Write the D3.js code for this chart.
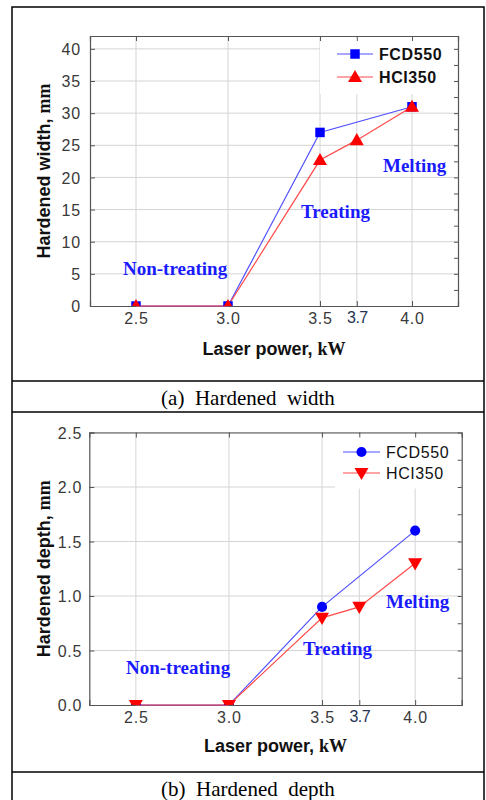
<!DOCTYPE html>
<html>
<head>
<meta charset="utf-8">
<script src="https://cdn.jsdelivr.net/npm/d3@7"></script>
<style>
  html, body { margin: 0; padding: 0; background: #fff; }
  svg { display: block; }
  text { white-space: pre; }
</style>
</head>
<body>
<svg id="chart" width="486" height="800"></svg>
<script>
// ---- data ----
const powerFCD = [2.5, 3.0, 3.5, 4.0];
const powerHCI = [2.5, 3.0, 3.5, 3.7, 4.0];
const widthFCD = [0, 0, 27, 31];
const widthHCI = [0, 0, 22.7, 25.8, 31];
const depthFCD = [0, 0, 0.9, 1.6];
const depthHCI = [0, 0, 0.8, 0.9, 1.3];
const xTicks = [2.5, 3.0, 3.5, 3.7, 4.0];
const widthTicks = [0, 5, 10, 15, 20, 25, 30, 35, 40];
const depthTicks = [0, 0.5, 1.0, 1.5, 2.0, 2.5];
const seriesNames = ["FCD550", "HCI350"];
const regionLabels = ["Non-treating", "Treating", "Melting"];

const svg = d3.select("#chart");
const SANS = "'Liberation Sans', Arial, sans-serif";
const SERIF = "'Liberation Serif', 'Times New Roman', serif";
const BLUE = "#0000ff", RED = "#ff0000";
const LBLUE = "#5050ff", LRED = "#ff4a4a";
const TXTBLUE = "#1a1aff";

// outer frame
svg.append("rect").attr("x", 12).attr("y", 7).attr("width", 472).attr("height", 800)
  .attr("fill", "none").attr("stroke", "#000").attr("stroke-width", 1.5);
[381, 412, 772].forEach(y => svg.append("line").attr("x1", 12).attr("x2", 484)
  .attr("y1", y).attr("y2", y).attr("stroke", "#000").attr("stroke-width", 1.5));

// captions
svg.append("text").attr("x", 248).attr("y", 405).attr("text-anchor", "middle")
  .attr("font-family", SERIF).attr("font-size", 21).attr("fill", "#000")
  .text("(a)  Hardened  width");
svg.append("text").attr("x", 248).attr("y", 796).attr("text-anchor", "middle")
  .attr("font-family", SERIF).attr("font-size", 21).attr("fill", "#000")
  .text("(b)  Hardened  depth");

function drawPanel(cfg) {
  const g = svg.append("g");
  const x = d3.scaleLinear().domain([2.25, 4.25]).range([cfg.left, cfg.right]);
  const y = d3.scaleLinear().domain(cfg.yDomain).range([cfg.bottom, cfg.top]);
  const clipId = "clip" + cfg.id;
  svg.append("defs").append("clipPath").attr("id", clipId).append("rect")
    .attr("x", cfg.left).attr("y", cfg.top)
    .attr("width", cfg.right - cfg.left).attr("height", cfg.bottom - cfg.top);

  // grid
  g.append("g").selectAll("line").data(cfg.yTicks.slice(1)).join("line")
    .attr("x1", cfg.left).attr("x2", cfg.right)
    .attr("y1", d => y(d)).attr("y2", d => y(d))
    .attr("stroke", "#d4d4d4").attr("stroke-width", 1);
  g.append("g").selectAll("line").data(xTicks).join("line")
    .attr("x1", d => x(d)).attr("x2", d => x(d))
    .attr("y1", cfg.top).attr("y2", cfg.bottom)
    .attr("stroke", "#d4d4d4").attr("stroke-width", 1);

  // legend background
  g.append("rect").attr("x", cfg.legBox[0]).attr("y", cfg.legBox[1])
    .attr("width", cfg.legBox[2]).attr("height", cfg.legBox[3]).attr("fill", "#fff");

  // axes with inward ticks
  const frame = "#555";
  const axL = d3.axisLeft(y).tickValues(cfg.yTicks).tickSize(-5).tickFormat(cfg.yFmt).tickPadding(cfg.yPad);
  const gl = g.append("g").attr("transform", `translate(${cfg.left},0)`).call(axL);
  const axR = d3.axisRight(y).tickValues(cfg.yMinor).tickSize(-4).tickFormat("");
  const gr = g.append("g").attr("transform", `translate(${cfg.right},0)`).call(axR);
  const axB = d3.axisBottom(x).tickValues(xTicks).tickSize(-5).tickFormat(d3.format(".1f")).tickPadding(7);
  const gb = g.append("g").attr("transform", `translate(0,${cfg.bottom})`).call(axB);
  const axT = d3.axisTop(x).tickValues(xTicks).tickSize(-5).tickFormat("");
  const gt = g.append("g").attr("transform", `translate(0,${cfg.top})`).call(axT);
  [gl, gr, gb, gt].forEach(a => {
    a.attr("font-size", null).attr("font-family", null);
    a.select(".domain").attr("stroke", frame).attr("stroke-width", 1.2);
    a.selectAll(".tick line").attr("stroke", frame);
    a.selectAll(".tick text").attr("font-family", SANS).attr("font-size", 16)
      .attr("fill", "#3a3a3a").attr("letter-spacing", "0.8px");
  });
  gl.selectAll(".tick text").attr("dy", "0.35em");
  gb.selectAll(".tick text").filter(d => d === 3.7)
    .attr("fill", "#243356").attr("letter-spacing", "-0.6px")
    .attr("transform", "translate(0,-1.5)");

  // axis titles
  const xt = g.append("text").attr("x", (cfg.left + cfg.right) / 2).attr("y", cfg.xTitleY)
    .attr("text-anchor", "middle").attr("font-size", 18).attr("font-weight", "bold").attr("fill", "#111");
  xt.append("tspan").attr("font-family", SANS).text("Laser power, ");
  xt.append("tspan").attr("font-family", SERIF).text("kW");
  const yt = g.append("text")
    .attr("transform", `translate(${cfg.yTitleX},${(cfg.top + cfg.bottom) / 2}) rotate(-90)`)
    .attr("text-anchor", "middle").attr("font-size", 18).attr("font-weight", "bold").attr("fill", "#111");
  yt.append("tspan").attr("font-family", SANS).text(cfg.yTitle + ", ");
  yt.append("tspan").attr("font-family", SERIF).text("mm");

  // region labels
  cfg.regionPos.forEach((p, i) => {
    g.append("text").attr("x", p[0]).attr("y", p[1]).attr("font-family", SERIF)
      .attr("font-weight", "bold").attr("font-size", 19).attr("fill", TXTBLUE)
      .text(regionLabels[i]);
  });

  // series
  const series = [
    { name: seriesNames[0], xs: powerFCD, ys: cfg.fcd, color: BLUE, lcolor: LBLUE, sym: cfg.symA, size: cfg.sizeA },
    { name: seriesNames[1], xs: powerHCI, ys: cfg.hci, color: RED, lcolor: LRED, sym: cfg.symB, size: cfg.sizeB }
  ];
  const line = d3.line().x(d => x(d[0])).y(d => y(d[1]));
  const plot = g.append("g");
  series.forEach(s => {
    const pts = s.xs.map((v, i) => [v, s.ys[i]]);
    plot.append("path").attr("d", line(pts)).attr("fill", "none")
      .attr("stroke", s.lcolor).attr("stroke-width", 1.2);
  });
  series.forEach(s => {
    const pts = s.xs.map((v, i) => [v, s.ys[i]]);
    plot.append("g").attr("clip-path", `url(#${clipId})`).selectAll("path").data(pts).join("path")
      .attr("d", d3.symbol().type(s.sym.type).size(s.size))
      .attr("transform", d => `translate(${x(d[0])},${y(d[1]) + s.sym.dy}) rotate(${s.sym.rot})`)
      .attr("fill", s.color);
  });

  // legend
  series.forEach((s, i) => {
    const ly = cfg.legY[i];
    g.append("line").attr("x1", cfg.legX[0]).attr("x2", cfg.legX[1]).attr("y1", ly).attr("y2", ly)
      .attr("stroke", s.lcolor).attr("stroke-width", 1.2);
    g.append("path").attr("d", d3.symbol().type(s.sym.type).size(s.size))
      .attr("transform", `translate(${(cfg.legX[0] + cfg.legX[1]) / 2},${ly + s.sym.dy}) rotate(${s.sym.rot})`)
      .attr("fill", s.color);
    g.append("text").attr("x", cfg.legX[1] + 6).attr("y", ly + 6).attr("font-family", SANS)
      .attr("font-size", 16).attr("font-weight", cfg.legBold ? "bold" : "normal")
      .attr("letter-spacing", "0.6px").attr("fill", "#111").text(s.name);
  });
}

drawPanel({
  id: "a", left: 90, right: 458, top: 36, bottom: 306,
  yDomain: [0, 42], yTicks: widthTicks, yMinor: d3.range(0, 42, 2.5), yFmt: d3.format("d"), yPad: 9,
  fcd: widthFCD, hci: widthHCI,
  symA: { type: d3.symbolSquare, rot: 0, dy: 0 }, sizeA: 90,
  symB: { type: d3.symbolTriangle, rot: 0, dy: 1 }, sizeB: 85,
  xTitleY: 355, yTitleX: 50, yTitle: "Hardened width",
  legBox: [320, 37, 137, 57], legX: [337, 373], legY: [54, 77], legBold: true,
  regionPos: [[123, 275], [301, 218], [383, 172]]
});

drawPanel({
  id: "b", left: 89.3, right: 461.7, top: 432.5, bottom: 705,
  yDomain: [0, 2.5], yTicks: depthTicks, yMinor: d3.range(0, 2.5, 0.25), yFmt: d3.format(".1f"), yPad: 7,
  fcd: depthFCD, hci: depthHCI,
  symA: { type: d3.symbolCircle, rot: 0, dy: 0 }, sizeA: 80,
  symB: { type: d3.symbolTriangle, rot: 180, dy: -1 }, sizeB: 85,
  xTitleY: 752, yTitleX: 50, yTitle: "Hardened depth",
  legBox: [335, 433.5, 125, 55], legX: [343, 380], legY: [452, 473], legBold: false,
  regionPos: [[126, 674], [303, 655], [386, 608]]
});
</script>
</body>
</html>
